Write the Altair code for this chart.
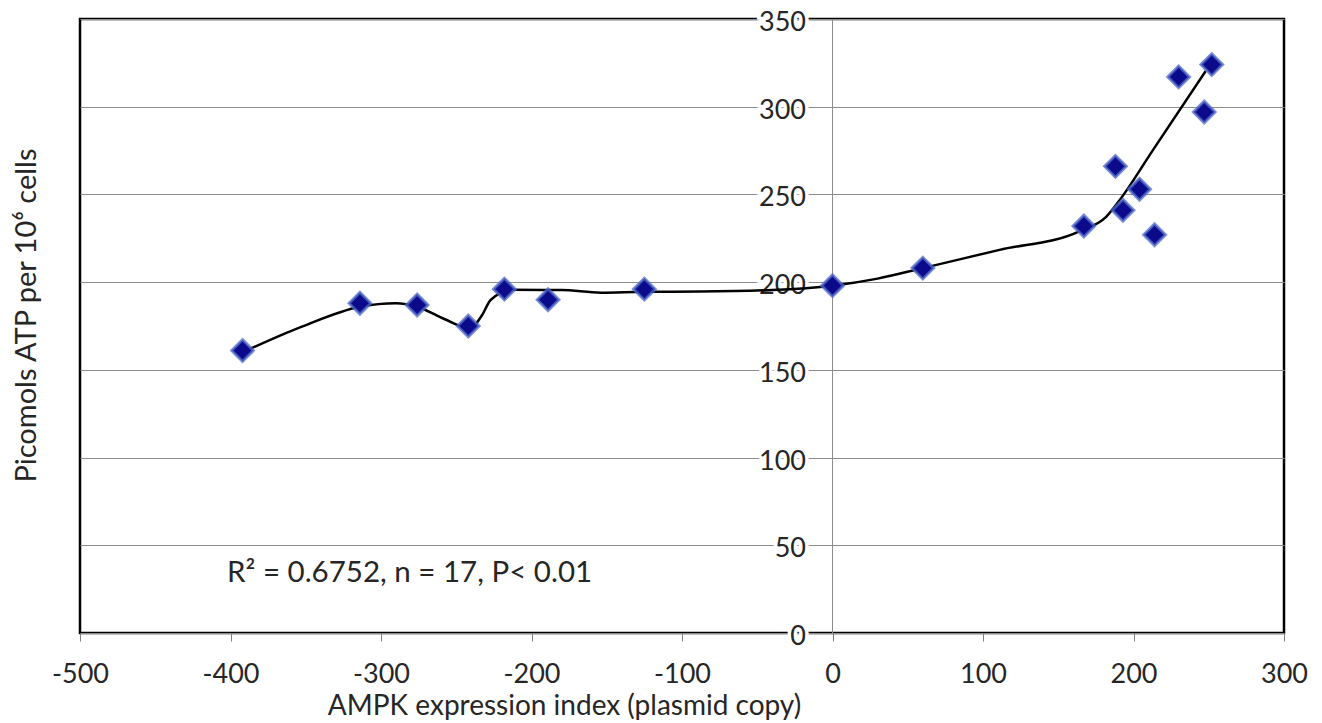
import altair as alt
import pandas as pd

# --- data ---
x_vals = [-392, -314, -276, -242, -218, -189, -125, 0, 60, 167, 188, 193, 204, 214, 230, 247, 252]
y_vals = [161, 188, 187, 175, 196, 190, 196, 198, 208, 232, 266, 241, 253, 227, 317, 297, 324]

curve_x = [-392, -353, -314, -290, -276, -258, -241, -233, -227, -212, -180, -154, -125, -88, -40,
           0, 30, 60, 111, 164, 182, 191, 213, 248]
curve_y = [160, 174.5, 186, 188, 186, 179, 173.7, 181, 190, 195.6, 195.5, 194, 194.5, 194.6, 195.5,
           198, 202, 208, 218.4, 229, 237.4, 247, 275.4, 320.4]

x_ticks = [-500, -400, -300, -200, -100, 0, 100, 200, 300]
y_ticks = [0, 50, 100, 150, 200, 250, 300, 350]

X_TITLE = "AMPK expression index (plasmid copy)"
Y_TITLE = "Picomols ATP per 10\u2076 cells"
ANNOT = "R\u00b2 = 0.6752, n = 17, P< 0.01"

FONT = "Lato"
TXT = "#262626"

pts = pd.DataFrame({"x": x_vals, "y": y_vals})
crv = pd.DataFrame({"x": curve_x, "y": curve_y})
ylab = pd.DataFrame({"y": y_ticks})
ann = pd.DataFrame({"t": [ANNOT]})

xscale = alt.Scale(domain=[-500, 300], nice=False, zero=False)
yscale = alt.Scale(domain=[0, 350], nice=False)

xaxis = alt.Axis(values=x_ticks, grid=False, domain=False, ticks=True, tickColor="#808080",
                 tickSize=8, tickWidth=1, labelFont=FONT, labelFontSize=27, labelColor=TXT,
                 labelBaseline="alphabetic", labelPadding=41, labelFlush=False, labelOverlap=False,
                 labelExpr="'' + datum.value",
                 title=X_TITLE, titleFont=FONT, titleFontSize=28, titleFontWeight="normal",
                 titleColor=TXT, titleX=484, titleY=81, titleAlign="center",
                 titleBaseline="alphabetic")
yaxis = alt.Axis(values=y_ticks, grid=True, gridColor="#8c8c8c", gridWidth=1, domain=False,
                 ticks=False, labels=False, title=Y_TITLE, titleFont=FONT, titleFontSize=29,
                 titleFontWeight="normal", titleColor=TXT, titleX=-45, titleY=296,
                 titleAngle=270, titleAlign="center", titleBaseline="alphabetic")


def X():
    return alt.X("x:Q", scale=xscale, axis=xaxis)


def Y():
    return alt.Y("y:Q", scale=yscale, axis=yaxis)


zero_line = alt.Chart(pts).mark_rule(color="#8c8c8c", strokeWidth=1).encode(
    x=alt.XDatum(0, scale=xscale, axis=xaxis)
)

halo = alt.Chart(ylab).mark_text(font=FONT, fontSize=27, align="right", baseline="alphabetic",
                                 dy=12, color="white", stroke="white", strokeWidth=7).encode(
    x=alt.value(726), y=Y(), text=alt.Text("y:Q")
)
labels = alt.Chart(ylab).mark_text(font=FONT, fontSize=27, align="right", baseline="alphabetic",
                                   dy=12, color=TXT).encode(
    x=alt.value(726), y=Y(), text=alt.Text("y:Q")
)

line = alt.Chart(crv).mark_line(color="black", strokeWidth=2.5, interpolate="monotone").encode(
    x=X(), y=Y()
)

points = alt.Chart(pts).mark_point(shape="diamond", filled=True, color="#0a0a8a", stroke="#4f68c8",
                                   strokeWidth=3, strokeOpacity=0.75, fillOpacity=1, opacity=1,
                                   size=470).encode(x=X(), y=Y())

annot = alt.Chart(ann).mark_text(font=FONT, fontSize=29.5, align="left", baseline="alphabetic",
                                 color=TXT).encode(
    x=alt.value(147), y=alt.value(563), text="t:N"
)

chart = alt.layer(zero_line, halo, labels, line, points, annot).properties(
    width=1204, height=614,
    autosize=alt.AutoSizeParams(type="none"),
    padding={"left": 72, "top": 11, "right": 30, "bottom": 90},
).configure_view(stroke="black", strokeWidth=2.5)

chart.save("out.html", embed_options={"renderer": "svg", "actions": False})
